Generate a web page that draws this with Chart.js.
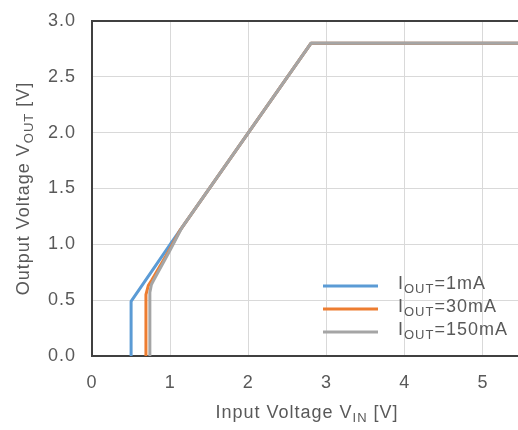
<!DOCTYPE html>
<html>
<head>
<meta charset="utf-8">
<script src="https://cdn.jsdelivr.net/npm/chart.js@4.4.1/dist/chart.umd.min.js"></script>
<style>
  html, body { margin: 0; padding: 0; background: #fff; overflow: hidden; }
  #wrap { width: 522px; height: 430px; }
</style>
</head>
<body>
<div id="wrap"><canvas id="vinVout" width="522" height="430"></canvas></div>
<script>
// Output voltage vs input voltage for three load currents
const xTicks = [0, 1, 2, 3, 4, 5];
const yTicks = [0, 0.5, 1.0, 1.5, 2.0, 2.5, 3.0];

const vin1mA   = [0.50, 0.50, 1.00, 2.80, 5.50];
const vout1mA  = [0.00, 0.49, 1.00, 2.80, 2.80];

const vin30mA  = [0.69, 0.69, 0.72, 0.765, 0.99, 1.13, 2.80, 5.50];
const vout30mA = [0.00, 0.55, 0.63, 0.68, 0.95, 1.13, 2.80, 2.80];

const vin150mA  = [0.74, 0.74, 0.76, 0.79, 1.00, 1.15, 2.80, 5.50];
const vout150mA = [0.00, 0.57, 0.64, 0.68, 0.95, 1.15, 2.80, 2.80];

const seriesNames = ['1mA', '30mA', '150mA'];
const seriesColors = ['#5B9BD5', '#ED7D31', '#A5A5A5'];

const textColor = '#595959';
const fontFamily = "'Liberation Sans', Arial, sans-serif";
const fontSize = 18;
const spacing = '1px';

const toPoints = (xs, ys) => xs.map((x, i) => ({ x: x, y: ys[i] }));

// draws "main" + subscript + "rest" starting at x (left aligned)
function drawSubText(ctx, x, y, main, sub, rest, size) {
  ctx.font = size + 'px ' + fontFamily;
  ctx.fillText(main, x, y);
  let w = ctx.measureText(main).width;
  ctx.font = Math.round(size * 0.72) + 'px ' + fontFamily;
  ctx.fillText(sub, x + w, y + size * 0.3);
  w += ctx.measureText(sub).width;
  ctx.font = size + 'px ' + fontFamily;
  ctx.fillText(rest, x + w, y);
}

function subTextWidth(ctx, main, sub, rest, size) {
  ctx.font = size + 'px ' + fontFamily;
  let w = ctx.measureText(main).width + ctx.measureText(rest).width;
  ctx.font = Math.round(size * 0.72) + 'px ' + fontFamily;
  return w + ctx.measureText(sub).width;
}

const titlesAndLegend = {
  id: 'titlesAndLegend',
  beforeDraw(chart) {
    chart.ctx.letterSpacing = spacing;
  },
  afterDraw(chart) {
    const ctx = chart.ctx;
    const area = chart.chartArea;
    ctx.save();
    ctx.letterSpacing = spacing;
    ctx.fillStyle = textColor;
    ctx.textBaseline = 'middle';
    ctx.textAlign = 'left';

    // x axis title
    const xw = subTextWidth(ctx, 'Input Voltage V', 'IN', ' [V]', fontSize);
    const xc = chart.scales.x.getPixelForValue(2.75);
    drawSubText(ctx, xc - xw / 2, 413, 'Input Voltage V', 'IN', ' [V]', fontSize);

    // y axis title, rotated
    const yw = subTextWidth(ctx, 'Output Voltage V', 'OUT', ' [V]', fontSize);
    const yc = (area.top + area.bottom) / 2;
    ctx.translate(24, yc);
    ctx.rotate(-Math.PI / 2);
    drawSubText(ctx, -yw / 2, 0, 'Output Voltage V', 'OUT', ' [V]', fontSize);
    ctx.setTransform(1, 0, 0, 1, 0, 0);

    // legend
    const rows = [286, 309, 332];
    seriesNames.forEach((name, i) => {
      ctx.strokeStyle = seriesColors[i];
      ctx.lineWidth = 3;
      ctx.beginPath();
      ctx.moveTo(323, rows[i]);
      ctx.lineTo(378, rows[i]);
      ctx.stroke();
      ctx.fillStyle = textColor;
      drawSubText(ctx, 398, rows[i] - 2, 'I', 'OUT', '=' + name, fontSize);
    });
    ctx.restore();
  }
};

new Chart(document.getElementById('vinVout'), {
  type: 'line',
  data: {
    datasets: [
      { label: 'IOUT=1mA', data: toPoints(vin1mA, vout1mA) },
      { label: 'IOUT=30mA', data: toPoints(vin30mA, vout30mA) },
      { label: 'IOUT=150mA', data: toPoints(vin150mA, vout150mA) }
    ].map((ds, i) => Object.assign(ds, {
      borderColor: seriesColors[i],
      backgroundColor: seriesColors[i],
      borderWidth: 3,
      pointRadius: 0,
      tension: 0,
      fill: false,
      borderJoinStyle: 'round',
      order: 3 - i
    }))
  },
  options: {
    responsive: false,
    animation: false,
    devicePixelRatio: 1,
    layout: { padding: { top: 21, right: 0, left: 0, bottom: 0 } },
    plugins: {
      legend: { display: false },
      tooltip: { enabled: false }
    },
    scales: {
      x: {
        type: 'linear',
        min: 0,
        max: 5.5,
        afterFit: (scale) => {
          scale.height = 74;
          scale.paddingLeft = 0;
          scale.paddingRight = 0;
        },
        afterBuildTicks: (scale) => { scale.ticks = xTicks.map(v => ({ value: v })); },
        grid: { color: '#D9D9D9', lineWidth: 1, drawTicks: false },
        border: { display: true, color: '#404040', width: 2 },
        ticks: {
          padding: 16,
          color: textColor,
          font: { family: fontFamily, size: fontSize },
          callback: (v) => String(v)
        }
      },
      y: {
        min: 0,
        max: 3,
        afterFit: (scale) => {
          scale.width = 92;
          scale.paddingTop = 0;
          scale.paddingBottom = 0;
        },
        afterBuildTicks: (scale) => { scale.ticks = yTicks.map(v => ({ value: v })); },
        grid: {
          color: (c) => (c.tick && c.tick.value === 3 ? '#404040' : '#D9D9D9'),
          lineWidth: (c) => (c.tick && c.tick.value === 3 ? 2 : 1),
          drawTicks: false
        },
        border: { display: true, color: '#404040', width: 2 },
        ticks: {
          padding: 16,
          color: textColor,
          font: { family: fontFamily, size: fontSize },
          callback: (v) => Number(v).toFixed(1)
        }
      }
    }
  },
  plugins: [titlesAndLegend]
});
</script>
</body>
</html>
